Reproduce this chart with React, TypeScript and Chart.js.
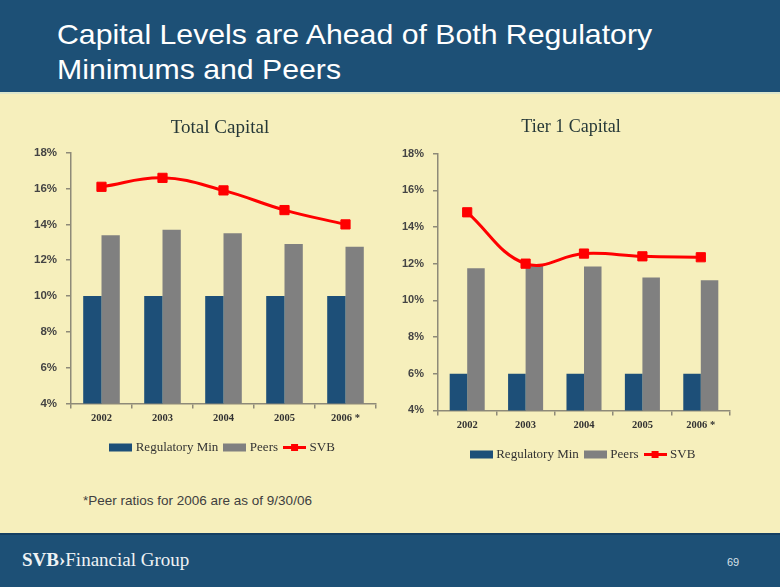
import React, { useEffect, useRef } from 'react';
import { Chart, registerables } from 'chart.js';

Chart.register(...registerables);

// ---- data ----
const categories = ['2002', '2003', '2004', '2005', '2006 *'];
const seriesNames = ['Regulatory Min', 'Peers', 'SVB'];

const totalRegMin = [10, 10, 10, 10, 10];
const totalPeers = [13.4, 13.7, 13.5, 12.9, 12.75];
const totalSvb = [16.1, 16.6, 15.9, 14.8, 14.0];

const tier1RegMin = [6, 6, 6, 6, 6];
const tier1Peers = [11.75, 11.9, 11.85, 11.25, 11.1];
const tier1Svb = [14.8, 12.0, 12.55, 12.4, 12.35];

const yMin = 4;
const yMax = 18;
const yStep = 2;

// ---- styles ----
const SANS = '"Liberation Sans", Arial, sans-serif';
const SERIF = '"Liberation Serif", "Times New Roman", serif';
const BAR_BLUE = '#1D4F78';
const BAR_GRAY = '#808080';
const RED = '#FF0000';
const AXIS = '#8E8A78';
const HDR = '#1D5076';
const CREAM = '#F6EFBC';

function makeIcon(kind: 'box' | 'line', color: string) {
  const c = document.createElement('canvas');
  c.width = 23;
  c.height = 9;
  const g = c.getContext('2d')!;
  if (kind === 'box') {
    g.fillStyle = color;
    g.fillRect(0, 0.5, 23, 8);
  } else {
    g.strokeStyle = color;
    g.lineWidth = 3;
    g.beginPath();
    g.moveTo(0, 4.5);
    g.lineTo(23, 4.5);
    g.stroke();
    g.fillStyle = color;
    g.fillRect(8, 1, 7, 7);
  }
  return c;
}

type Spec = {
  title: string;
  titleSize: number;
  titlePadTop: number;
  titlePadBottom: number;
  regMin: number[];
  peers: number[];
  svb: number[];
  yAxisWidth: number;
  rightWidth: number;
  tickFont: number;
  xExtra: number;
  legendPad: number;
};

function CapitalChart({ spec, left, top, width, height }: { spec: Spec; left: number; top: number; width: number; height: number }) {
  const ref = useRef<HTMLCanvasElement>(null);
  useEffect(() => {
    const icons = [makeIcon('box', BAR_BLUE), makeIcon('box', BAR_GRAY), makeIcon('line', RED)];
    const chart = new Chart(ref.current!, {
      type: 'bar',
      data: {
        labels: categories,
        datasets: [
          { type: 'bar', label: seriesNames[0], data: spec.regMin, backgroundColor: BAR_BLUE, order: 1, categoryPercentage: 0.6, barPercentage: 1 },
          { type: 'bar', label: seriesNames[1], data: spec.peers, backgroundColor: BAR_GRAY, order: 1, categoryPercentage: 0.6, barPercentage: 1 },
          {
            type: 'line', label: seriesNames[2], data: spec.svb, borderColor: RED, backgroundColor: RED,
            borderWidth: 3, tension: 0.4, pointStyle: 'rect', pointRadius: 6.5, pointBorderWidth: 1,
            pointBackgroundColor: RED, pointBorderColor: RED, order: 0,
          },
        ],
      } as any,
      options: {
        animation: false,
        responsive: false,
        devicePixelRatio: 1,
        layout: { padding: 0 },
        plugins: {
          title: {
            display: true,
            text: spec.title,
            color: '#263838',
            font: { family: SERIF, size: spec.titleSize, weight: 'normal' },
            padding: { top: spec.titlePadTop, bottom: spec.titlePadBottom },
          },
          legend: {
            position: 'bottom',
            fullSize: false,
            labels: {
              usePointStyle: true,
              pointStyleWidth: 17,
              boxHeight: 9,
              padding: spec.legendPad,
              color: '#333333',
              font: { family: SERIF, size: 13 },
              generateLabels: (ch: any) =>
                ch.data.datasets.map((ds: any, i: number) => ({
                  text: ds.label,
                  pointStyle: icons[i],
                  fillStyle: i === 2 ? RED : ds.backgroundColor,
                  strokeStyle: 'transparent',
                  lineWidth: 0,
                  hidden: !ch.isDatasetVisible(i),
                  datasetIndex: i,
                  fontColor: '#333333',
                })),
            },
          },
          tooltip: { enabled: false },
        },
        scales: {
          x: {
            grid: { display: true, drawOnChartArea: false, drawTicks: true, tickLength: 5, color: AXIS, lineWidth: 1.5, offset: true },
            border: { display: true, color: AXIS, width: 1.5 },
            ticks: { color: '#333333', font: { family: SERIF, size: 10.5, weight: 'bold' }, padding: 4, maxRotation: 0 },
            afterFit: (s: any) => { s.height += spec.xExtra; },
          },
          y: {
            min: yMin,
            max: yMax,
            ticks: {
              stepSize: yStep,
              callback: (v: any) => v + '%',
              color: '#444444',
              font: { family: SANS, size: spec.tickFont, weight: 'bold' },
              padding: 9,
            },
            grid: { display: true, drawOnChartArea: false, drawTicks: true, tickLength: 5, color: AXIS, lineWidth: 1.5 },
            border: { display: true, color: AXIS, width: 1.5 },
            afterFit: (s: any) => { s.width = spec.yAxisWidth; },
          },
          y2: {
            position: 'right',
            grid: { display: false },
            border: { display: false },
            ticks: { display: false },
            afterFit: (s: any) => { s.width = spec.rightWidth; },
          },
        },
      } as any,
    });
    return () => chart.destroy();
  }, []);
  return (
    <canvas
      ref={ref}
      width={width}
      height={height}
      style={{ position: 'absolute', left, top, width, height }}
    />
  );
}

const totalSpec: Spec = {
  title: 'Total Capital', titleSize: 19, titlePadTop: 7, titlePadBottom: 13,
  regMin: totalRegMin, peers: totalPeers, svb: totalSvb,
  yAxisWidth: 71, rightWidth: 64, tickFont: 11.5, xExtra: 4, legendPad: 8,
};

const tier1Spec: Spec = {
  title: 'Tier 1 Capital', titleSize: 18, titlePadTop: 6, titlePadBottom: 16,
  regMin: tier1RegMin, peers: tier1Peers, svb: tier1Svb,
  yAxisWidth: 46, rightWidth: 20, tickFont: 11, xExtra: 4, legendPad: 8,
};

export default function App() {
  return (
    <div style={{ position: 'absolute', left: 0, top: 0, width: 780, height: 587, background: CREAM, overflow: 'hidden' }}>
      <div style={{ position: 'absolute', left: 0, top: 0, width: 780, height: 92, background: HDR }} />
      <div style={{ position: 'absolute', left: 0, top: 92, width: 780, height: 2, background: '#DCE6CC' }} />
      <div
        style={{
          position: 'absolute', left: 57, top: 17, color: '#FFFFFF', fontFamily: SANS,
          fontSize: 28, lineHeight: '35px', whiteSpace: 'nowrap',
          transform: 'scaleX(1.08)', transformOrigin: 'left top',
        }}
      >
        Capital Levels are Ahead of Both Regulatory
        <br />
        Minimums and Peers
      </div>

      <CapitalChart spec={totalSpec} left={0} top={110} width={440} height={354} />
      <CapitalChart spec={tier1Spec} left={392} top={110} width={358} height={361} />

      <div
        style={{
          position: 'absolute', left: 83, top: 493, color: '#404040', fontFamily: SANS,
          fontSize: 13.5, lineHeight: '16px', whiteSpace: 'nowrap',
        }}
      >
        *Peer ratios for 2006 are as of 9/30/06
      </div>

      <div style={{ position: 'absolute', left: 0, top: 533, width: 780, height: 54, background: HDR, borderTop: '2px solid #153F62' }} />
      <div
        style={{
          position: 'absolute', left: 22, top: 550, color: '#EEF2F4', fontFamily: SERIF,
          fontSize: 19, lineHeight: '20px', whiteSpace: 'nowrap',
        }}
      >
        <span style={{ fontWeight: 600 }}>SVB›</span>Financial Group
      </div>
      <div
        style={{
          position: 'absolute', left: 727, top: 556, color: '#D8E0E8', fontFamily: SANS,
          fontSize: 11, lineHeight: '13px',
        }}
      >
        69
      </div>
    </div>
  );
}
